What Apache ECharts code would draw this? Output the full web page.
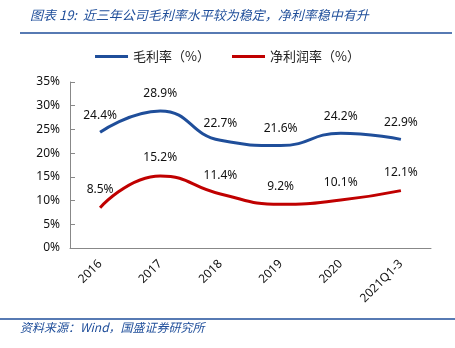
<!DOCTYPE html>
<html><head><meta charset="utf-8">
<script src="https://cdn.jsdelivr.net/npm/echarts@6/dist/echarts.min.js"></script>
<style>html,body{margin:0;padding:0;background:#fff}#c{width:455px;height:348px}</style>
</head><body><div id="c"></div>
<script>
var categories = ['2016','2017','2018','2019','2020','2021Q1-3'];
var grossMargin = [24.4, 28.9, 22.7, 21.6, 24.2, 22.9];
var netMargin = [8.5, 15.2, 11.4, 9.2, 10.1, 12.1];
var yTicks = [0,5,10,15,20,25,30,35];
var seriesNames = ['毛利率（%）','净利润率（%）'];
var titleText = '图表 19:  近三年公司毛利率水平较为稳定，净利率稳中有升';
var sourceText = '资料来源：Wind，国盛证券研究所';

var chart = echarts.init(document.getElementById('c'));
var font = '"Noto Sans CJK SC","Noto Sans",sans-serif';
chart.setOption({
  animation: false,
  textStyle: {fontFamily: font},
  graphic: [
    {type:'text', left: 30, top: 9, style:{text:titleText, fill:'#1F4E9A', font:'italic 13px "Noto Sans CJK SC"'}},
    {type:'line', shape:{x1:20,y1:33,x2:452,y2:33}, style:{stroke:'#1F4E9A', lineWidth:1.5}},
    {type:'line', shape:{x1:0,y1:319,x2:455,y2:319}, style:{stroke:'#1F4E9A', lineWidth:1.5}},
    {type:'text', left: 20, top: 321, style:{text:sourceText, fill:'#1F4E9A', font:'italic 12px "Noto Sans CJK SC"'}}
  ],
  legend: {
    top: 45, left: 'center', itemGap: 22, itemWidth: 33, itemHeight: 3,
    icon: 'rect',
    textStyle: {fontSize: 13, color: '#222', fontFamily: '"Noto Sans CJK SC"'},
    data: seriesNames
  },
  grid: {left: 70, right: 24, top: 82, bottom: 100},
  xAxis: {
    type: 'category', data: categories, boundaryGap: true,
    axisLine: {lineStyle: {color: '#888'}},
    axisTick: {inside: true, alignWithLabel: false, lineStyle: {color:'#888'}},
    axisLabel: {rotate: 45, fontSize: 12, color: '#111', margin: 14, fontFamily: 'Noto Sans'}
  },
  yAxis: {
    type: 'value', min: 0, max: 35, interval: 5,
    axisLine: {show: true, lineStyle: {color: '#888'}},
    axisTick: {show: true, inside: true, lineStyle: {color:'#888'}},
    splitLine: {show: false},
    axisLabel: {formatter: function(v){return v + '%';}, fontSize: 12, color: '#111', margin: 10, fontFamily: 'Noto Sans'}
  },
  series: [
    {name: seriesNames[0], type: 'line', smooth: true, data: grossMargin, symbol: 'circle', symbolSize: 0, showSymbol: true,
     lineStyle: {color: '#1F4E9A', width: 3}, itemStyle: {color: '#1F4E9A'},
     label: {show: true, position: 'top', distance: 11, fontSize: 12, color: '#111', fontFamily:'Noto Sans', formatter: function(p){return p.value.toFixed(1)+'%';}}},
    {name: seriesNames[1], type: 'line', smooth: true, data: netMargin, symbol: 'circle', symbolSize: 0, showSymbol: true,
     lineStyle: {color: '#C00000', width: 3}, itemStyle: {color: '#C00000'},
     label: {show: true, position: 'top', distance: 12, fontSize: 12, color: '#111', fontFamily:'Noto Sans', formatter: function(p){return p.value.toFixed(1)+'%';}}}
  ]
});
</script></body></html>
